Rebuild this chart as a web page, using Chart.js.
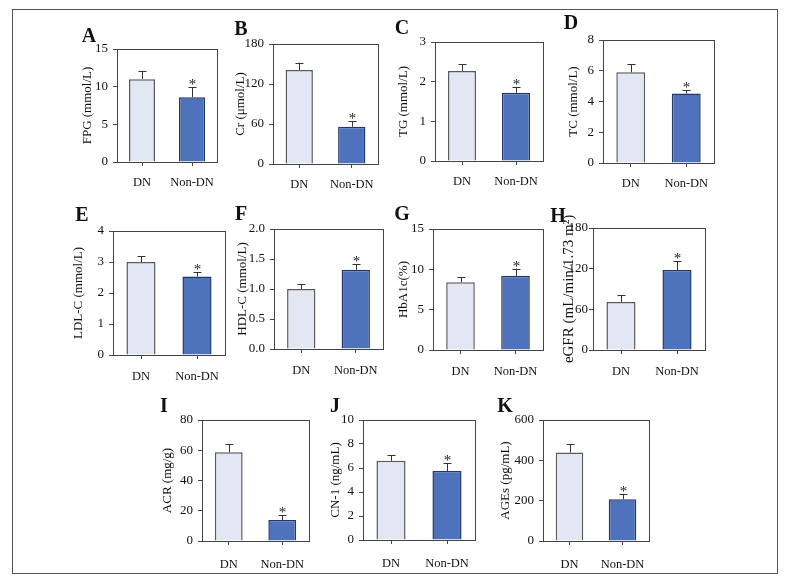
<!DOCTYPE html>
<html>
<head>
<meta charset="utf-8">
<script src="https://cdn.jsdelivr.net/npm/chart.js@4"></script>
<style>
    body { margin: 0; background: #fff; }
    #fig { position: relative; width: 789px; height: 584px; overflow: hidden; }
    #frame { position: absolute; left: 12px; top: 9px; width: 764px; height: 563px; border: 1px solid #555; }
    canvas { position: absolute; }
    .letter { position: absolute; font: bold 20px "Liberation Serif", serif; color: #111; transform: translate(-50%, -50%); }
</style>
</head>
<body>
<div id="fig"><div id="frame"></div></div>
<script>
(function () {
    'use strict';

    var categories = ['DN', 'Non-DN'];
    var panelLetters = ['A', 'B', 'C', 'D', 'E', 'F', 'G', 'H', 'I', 'J', 'K'];
    var yTitles = ['FPG (mmol/L)', 'Cr (\u03bcmol/L)', 'TG (mmol/L)', 'TC (mmol/L)',
        'LDL-C (mmol/L)', 'HDL-C (mmol/L)', 'HbA1c(%)', 'eGFR (mL/min/1.73 m\u00b2)',
        'ACR (mg/g)', 'CN-1 (ng/mL)', 'AGEs (pg/mL)'];
    var dnMeans = [11.0, 141, 2.27, 5.9, 3.0, 1.0, 8.4, 71, 58.6, 6.6, 439];
    var nonDnMeans = [8.6, 56, 1.72, 4.52, 2.53, 1.32, 9.2, 118, 13.9, 5.75, 207];
    var dnErr = [1.1, 11, 0.17, 0.52, 0.19, 0.08, 0.6, 10, 5.3, 0.47, 40];
    var nonDnErr = [1.3, 8, 0.15, 0.2, 0.14, 0.10, 0.9, 13, 3.1, 0.64, 27];
    var significant = [true, true, true, true, true, true, true, true, true, true, true];
    var yMax = [15, 180, 3, 8, 4, 2, 15, 180, 80, 10, 600];
    var yStep = [5, 60, 1, 2, 1, 0.5, 5, 60, 20, 2, 200];
    var tickDecimals = [0, 0, 0, 0, 0, 1, 0, 0, 0, 0, 0];

    // plot box [left, top, right, bottom], y title x, letter x, letter y, title size, y tick pad, x tick pad
    var layout = [
        [117, 49, 217, 162, 88, 89, 35, 13, 5, 9],
        [273, 44, 378, 164, 241, 241, 28, 13, 5, 9],
        [435, 42, 543, 161, 404, 402, 27, 13, 5, 9],
        [603, 40, 714, 163, 574, 571, 22, 13, 5, 9],
        [113, 231, 225, 355, 79, 82, 214, 13, 5, 10],
        [274, 229, 383, 349, 243, 241, 213, 13, 5, 10],
        [433, 229, 543, 350, 404, 402, 213, 13, 5, 10],
        [593, 228, 705, 350, 569, 558, 215, 15, 1, 10],
        [202, 420, 309, 541, 168, 164, 405, 13, 5, 12],
        [363, 420, 475, 540, 336, 335, 405, 13, 5, 12],
        [543, 420, 649, 541, 506, 505, 405, 13, 5, 12]
    ];

    var padTop = 30, padRight = 10, xHeight = 42;
    var serif = '"Liberation Serif", "Times New Roman", serif';

    var errorBars = {
        id: 'errorBars',
        afterDatasetsDraw: function (chart) {
            var ctx = chart.ctx;
            var area = chart.chartArea;
            var y = chart.scales.y;
            var meta = chart.getDatasetMeta(0);
            var info = chart.options.plugins.errorBars;

            ctx.save();
            meta.data.forEach(function (bar, i) {
                var top = y.getPixelForValue(info.means[i] + info.errs[i]);
                var x = Math.round(bar.x) + 0.5;
                ctx.strokeStyle = '#333';
                ctx.lineWidth = 1;
                ctx.beginPath();
                ctx.moveTo(x, bar.y);
                ctx.lineTo(x, top);
                ctx.moveTo(x - 4, Math.round(top) + 0.5);
                ctx.lineTo(x + 4, Math.round(top) + 0.5);
                ctx.stroke();
                if (i === 1 && info.star) {
                    ctx.fillStyle = '#222';
                    ctx.font = '15px ' + serif;
                    ctx.textAlign = 'center';
                    ctx.textBaseline = 'alphabetic';
                    ctx.fillText('*', x, top + 2);
                }
            });

            ctx.strokeStyle = '#444';
            ctx.lineWidth = 1;
            ctx.strokeRect(Math.round(area.left) + 0.5, Math.round(area.top) + 0.5,
                Math.round(area.right - area.left), Math.round(area.bottom - area.top));
            ctx.restore();
        }
    };

    var fig = document.getElementById('fig');

    panelLetters.forEach(function (letter, i) {
        var box = layout[i];
        var titleSize = box[7];
        var titleLine = titleSize * 1.2;
        var canvasLeft = Math.round(box[4] - titleLine / 2 - 4);
        var yWidth = box[0] - canvasLeft;
        var plotW = box[2] - box[0];
        var plotH = box[3] - box[1];

        var canvas = document.createElement('canvas');
        canvas.width = yWidth + plotW + padRight;
        canvas.height = padTop + plotH + xHeight;
        canvas.style.left = canvasLeft + 'px';
        canvas.style.top = (box[1] - padTop) + 'px';
        fig.appendChild(canvas);

        var lab = document.createElement('div');
        lab.className = 'letter';
        lab.textContent = letter;
        lab.style.left = box[5] + 'px';
        lab.style.top = box[6] + 'px';
        fig.appendChild(lab);

        var decimals = tickDecimals[i];

        new Chart(canvas, {
            type: 'bar',
            data: {
                labels: categories,
                datasets: [
                    {
                        data: [dnMeans[i], nonDnMeans[i]],
                        backgroundColor: ['#E3E7F3', '#4F72BC'],
                        borderColor: ['#5a5a5a', '#23386a'],
                        borderWidth: 1.5,
                        borderSkipped: 'bottom',
                        barPercentage: 0.52,
                        categoryPercentage: 1
                    }
                ]
            },
            options: {
                responsive: false,
                devicePixelRatio: 1,
                animation: false,
                layout: {
                    padding: { top: padTop, right: padRight, left: 0, bottom: 0 }
                },
                plugins: {
                    legend: { display: false },
                    tooltip: { enabled: false },
                    errorBars: {
                        means: [dnMeans[i], nonDnMeans[i]],
                        errs: [dnErr[i], nonDnErr[i]],
                        star: significant[i]
                    }
                },
                scales: {
                    x: {
                        offset: true,
                        border: { display: false },
                        grid: {
                            offset: false,
                            drawOnChartArea: false,
                            drawTicks: true,
                            tickLength: 4,
                            color: '#444'
                        },
                        ticks: {
                            padding: box[9],
                            minRotation: 0,
                            maxRotation: 0,
                            autoSkip: false,
                            color: '#111',
                            font: { family: serif, size: 12.5 }
                        },
                        afterFit: function (scale) {
                            scale.height = xHeight;
                        }
                    },
                    y: {
                        min: 0,
                        max: yMax[i],
                        border: { display: false },
                        grid: {
                            drawOnChartArea: false,
                            drawTicks: true,
                            tickLength: 4,
                            color: '#444'
                        },
                        ticks: {
                            stepSize: yStep[i],
                            padding: box[8],
                            color: '#111',
                            font: { family: serif, size: 13 },
                            callback: function (v) {
                                return Number(v).toFixed(decimals);
                            }
                        },
                        title: {
                            display: true,
                            text: yTitles[i],
                            color: '#111',
                            font: { family: serif, size: titleSize }
                        },
                        afterFit: function (scale) {
                            scale.width = yWidth;
                        }
                    }
                }
            },
            plugins: [errorBars]
        });
    });
})();
</script>
</body>
</html>
